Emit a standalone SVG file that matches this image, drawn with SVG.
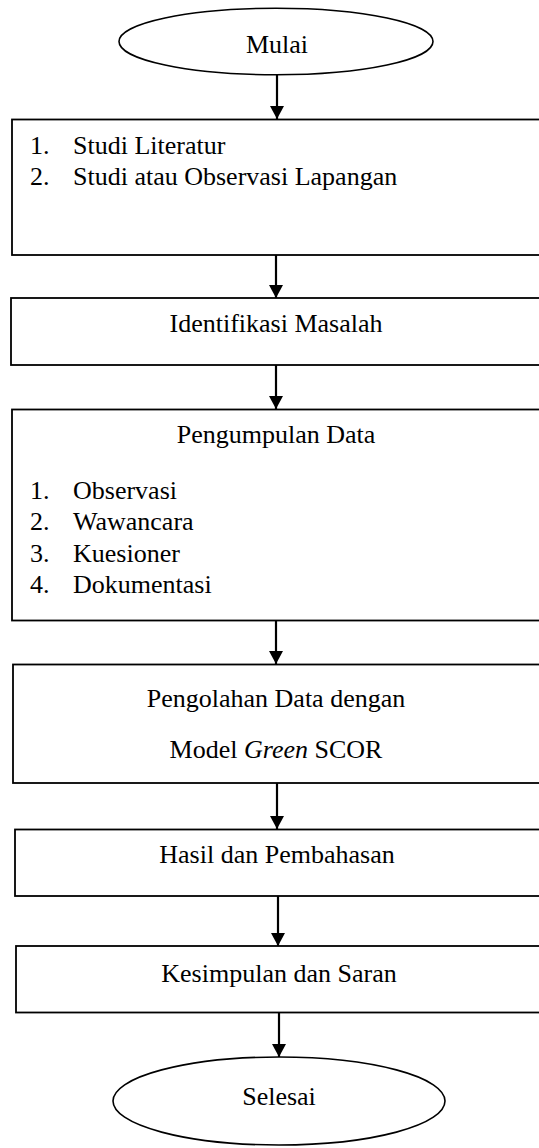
<svg xmlns="http://www.w3.org/2000/svg" width="539" height="1148" viewBox="0 0 539 1148">
  <style>
    .box { fill: #ffffff; stroke: #000000; stroke-width: 1.8; }
    .term { fill: #ffffff; stroke: #000000; stroke-width: 1.6; }
    .t { font-family: "Liberation Serif", "Times New Roman", serif; font-size: 26px; fill: #000000; }
    .c { text-anchor: middle; }
    .edge { stroke: #000000; stroke-width: 2.2; fill: none; marker-end: url(#arrow); }
  </style>
  <defs>
    <!-- solid triangular arrowhead, tip sits on the line end -->
    <marker id="arrow" markerUnits="userSpaceOnUse" markerWidth="13" markerHeight="14" viewBox="0 0 13 14" refX="13" refY="7" orient="auto">
      <path d="M0,0 L13,7 L0,14 Z" fill="#000000"/>
    </marker>
  </defs>

  <rect width="539" height="1148" fill="#ffffff"/>

  <!-- connectors -->
  <g id="connectors">
    <line class="edge" x1="277" y1="75" x2="277" y2="119"/>
    <line class="edge" x1="276" y1="255" x2="276" y2="298"/>
    <line class="edge" x1="276" y1="365" x2="276" y2="409"/>
    <line class="edge" x1="276" y1="621" x2="276" y2="664"/>
    <line class="edge" x1="277" y1="783" x2="277" y2="829"/>
    <line class="edge" x1="278" y1="896" x2="278" y2="946"/>
    <line class="edge" x1="279" y1="1013" x2="279" y2="1057"/>
  </g>

  <g id="start">
    <ellipse class="term" cx="276" cy="41.5" rx="157" ry="33.3"/>
    <text class="t c" x="277" y="53">Mulai</text>
  </g>

  <g id="literature">
    <rect class="box" x="12" y="119.5" width="540" height="135.5"/>
    <text class="t" x="30" y="154">1.</text>
    <text class="t" x="73" y="154">Studi Literatur</text>
    <text class="t" x="30" y="185">2.</text>
    <text class="t" x="73" y="185">Studi atau Observasi Lapangan</text>
  </g>

  <g id="problem">
    <rect class="box" x="11" y="298" width="540" height="67"/>
    <text class="t c" x="276" y="332">Identifikasi Masalah</text>
  </g>

  <g id="collection">
    <rect class="box" x="12" y="409.5" width="540" height="211"/>
    <text class="t c" x="276" y="443">Pengumpulan Data</text>
    <text class="t" x="30" y="499">1.</text>
    <text class="t" x="73" y="499">Observasi</text>
    <text class="t" x="30" y="530">2.</text>
    <text class="t" x="73" y="530">Wawancara</text>
    <text class="t" x="30" y="561.5">3.</text>
    <text class="t" x="73" y="561.5">Kuesioner</text>
    <text class="t" x="30" y="592.5">4.</text>
    <text class="t" x="73" y="592.5">Dokumentasi</text>
  </g>

  <g id="processing">
    <rect class="box" x="13" y="664.5" width="540" height="118.5"/>
    <text class="t c" x="276" y="707">Pengolahan Data dengan</text>
    <text class="t c" x="276" y="758">Model <tspan font-style="italic">Green</tspan> SCOR</text>
  </g>

  <g id="results">
    <rect class="box" x="15" y="829.5" width="540" height="66.5"/>
    <text class="t c" x="277" y="863">Hasil dan Pembahasan</text>
  </g>

  <g id="conclusion">
    <rect class="box" x="16" y="946" width="540" height="66.5"/>
    <text class="t c" x="279" y="982">Kesimpulan dan Saran</text>
  </g>

  <g id="end">
    <ellipse class="term" cx="279" cy="1101" rx="166" ry="44"/>
    <text class="t c" x="279" y="1105">Selesai</text>
  </g>
</svg>
